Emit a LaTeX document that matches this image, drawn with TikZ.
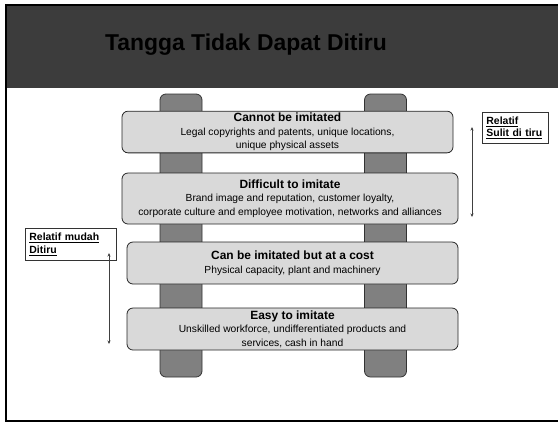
\documentclass[tikz,border=0pt]{standalone}
\usepackage{fontspec}
\setmainfont{Liberation Sans}
\usetikzlibrary{arrows.meta}

\definecolor{headgray}{HTML}{3C3C3C}
\definecolor{railgray}{HTML}{808080}
\definecolor{runggray}{HTML}{D9D9D9}

\newcommand\rungtitle[1]{{\bfseries\fontsize{12}{13.5}\selectfont #1}}

\begin{document}
\begin{tikzpicture}[x=1bp,y=-1bp]

\tikzset{rung/.style={
    draw=black!85, fill=runggray,
    rounded corners=6bp, line width=0.8bp,
    minimum width=#1, minimum height=42bp,
    align=center, inner sep=2bp,
    font=\fontsize{10.3}{13.5}\selectfont
  },
  rung/.default=331bp,
  rail/.style={draw=black!80, fill=railgray,
    rounded corners=6bp, line width=0.8bp,
    minimum width=42bp, minimum height=283bp, inner sep=0pt
  },
  tag/.style={draw=black!80, fill=white, line width=0.8bp,
    anchor=north west, align=left, inner sep=0pt,
    text width=#1, minimum height=32bp,
    font=\bfseries\fontsize{10.5}{12.5}\selectfont
  },
  span/.style={{Stealth[length=3.5bp,width=3bp]}-{Stealth[length=3.5bp,width=3bp]},
    line width=0.6bp, draw=black!75
  }
}

\useasboundingbox (0,0) rectangle (558,422);

\fill[headgray] (7,5) rectangle (558,88);
\draw[line width=2bp] (558,5) -- (6,5) -- (6,421) -- (558,421);
\node[font=\bfseries\fontsize{23}{27}\selectfont] (title) at (246,45) {Tangga Tidak Dapat Ditiru};

\node[rail] (leftrail) at (181,235.5) {};
\node[rail] (rightrail) at (385.5,235.5) {};

\node[rung, minimum height=40bp] (cannot) at (287.5,132)
  {\rungtitle{Cannot be imitated}\\
   Legal copyrights and patents, unique locations,\\
   unique physical assets};
\node[rung=336bp, minimum height=51bp] (difficult) at (290,198.5)
  {\rungtitle{Difficult to imitate}\\
   Brand image and reputation, customer loyalty,\\
   corporate culture and employee motivation, networks and alliances};
\node[rung] (cost) at (292.5,263)
  {\rungtitle{Can be imitated but at a cost}\\
   Physical capacity, plant and machinery};
\node[rung] (easy) at (292.5,329)
  {\rungtitle{Easy to imitate}\\
   Unskilled workforce, undifferentiated products and\\
   services, cash in hand};

\node[tag=91bp] (mudah) at (25,228)
  {\hspace*{4bp}\underline{Relatif mudah}\\\hspace*{4bp}\underline{Ditiru}};
\node[tag=66bp, minimum height=31bp] (sulit) at (482,112)
  {\hspace*{4bp}\underline{Relatif}\\\hspace*{4bp}\underline{Sulit di tiru}};

\coordinate (mudahtop) at (109,253);
\coordinate (mudahbot) at (109,344);
\coordinate (sulittop) at (472,127);
\coordinate (sulitbot) at (472,217);
\draw[span] (mudahtop) -- (mudahbot);
\draw[span] (sulittop) -- (sulitbot);

\end{tikzpicture}
\end{document}
